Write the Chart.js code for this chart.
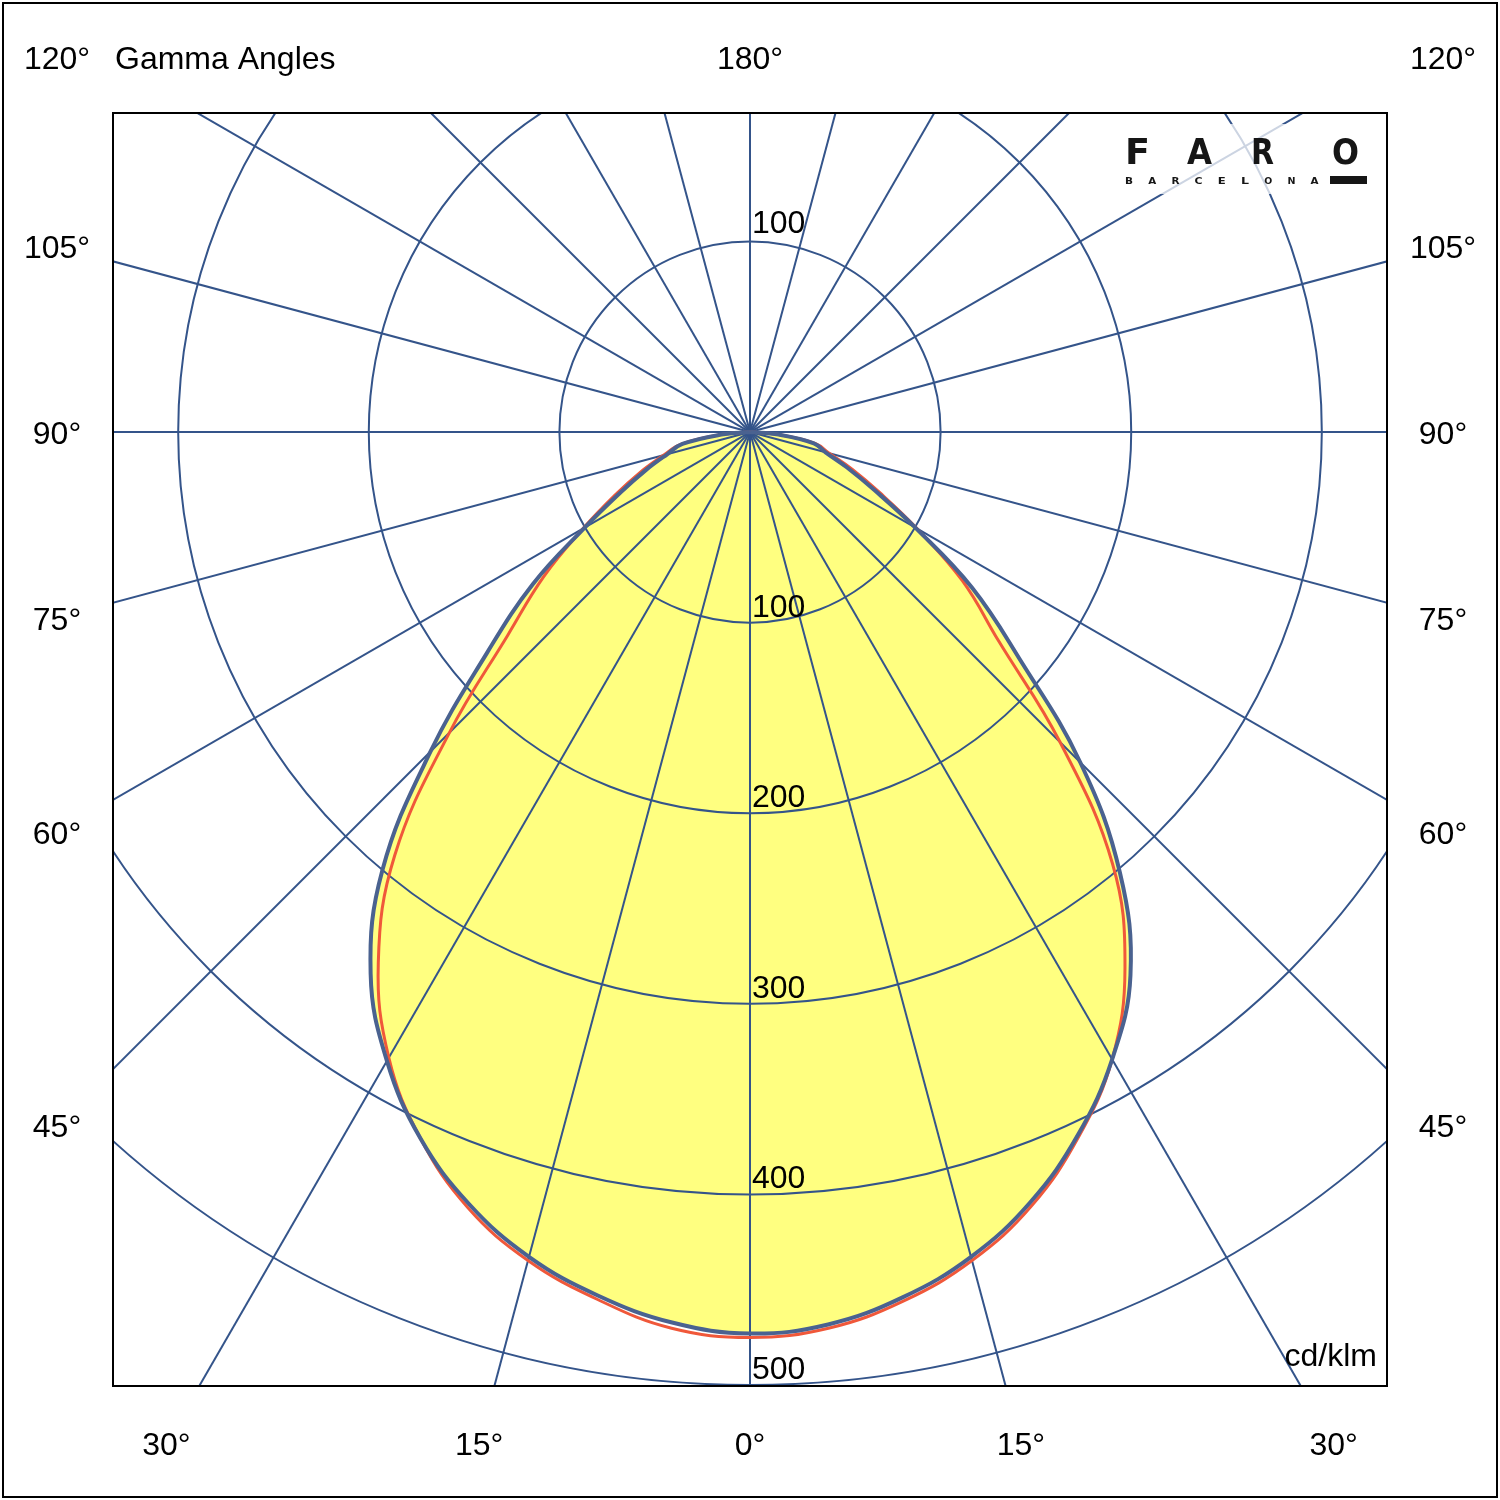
<!DOCTYPE html>
<html>
<head>
<meta charset="utf-8">
<title>Gamma Angles</title>
<script src="https://cdn.jsdelivr.net/npm/chart.js@4.4.0/dist/chart.umd.min.js"></script>
<style>
  html, body { margin: 0; padding: 0; background: #ffffff; }
  canvas { display: block; }
</style>
</head>
<body>
<canvas id="polarChart" width="1500" height="1500"></canvas>
<script>
// gamma angles of the measured points (deg)
const gammaAngles = [0, 5, 10, 15, 20, 25, 30, 35, 40, 45, 50, 55, 60, 65, 70, 75, 80, 85, 90];

// C0 - C180 plane (blue, filled)
const planeC0   = [473, 470, 461, 448, 430, 407, 380, 348, 302, 245, 184, 142, 100, 72, 54, 41, 34, 15, 0];
const planeC180 = [473, 469, 460, 448, 431, 409, 381, 347, 300, 237, 180, 139, 100, 75, 58, 45, 36, 15, 0];

// C90 - C270 plane (red)
const planeC90  = [475, 472, 463, 450, 432, 408, 380, 343, 296, 230, 170, 136, 101, 75, 57, 43, 35, 15, 0];
const planeC270 = [475, 472, 462, 450, 433, 409, 379, 340, 290, 223, 166, 132, 101, 78, 61, 47, 37, 15, 0];

// grid
const ringValues = [100, 200, 300, 400, 500];
const upperRingLabels = [100];
const spokeStep = 15;
const angleLabelAngles = [-120, 180, 120, -105, 105, -90, 90, -75, 75, -60, 60, -45, 45, -30, -15, 0, 15, 30];

const unitLabel = 'cd/klm';
const titleText = 'Gamma Angles';

const gridColor = '#34548a';
const fontFamily = '"Liberation Sans", Arial, sans-serif';

// angle 0 = straight down, positive to the right
function polar(angle, value) {
    const rad = angle * Math.PI / 180;
    return { x: value * Math.sin(rad), y: -value * Math.cos(rad) };
}

function planeCurve(leftValues, rightValues) {
    const pts = [];
    for (let i = gammaAngles.length - 1; i >= 0; i--) {
        pts.push(polar(-gammaAngles[i], leftValues[i]));
    }
    for (let i = 1; i < gammaAngles.length; i++) {
        pts.push(polar(gammaAngles[i], rightValues[i]));
    }
    return pts;
}

const blueCurve = planeCurve(planeC180, planeC0);
const redCurve = planeCurve(planeC270, planeC90);

// draws one logo letter squeezed/stretched to a given box width
function wideLetter(ctx, ch, left, baseline, width) {
    const w = ctx.measureText(ch).width;
    ctx.save();
    ctx.translate(left, baseline);
    ctx.scale(width / w, 1);
    ctx.fillText(ch, 0, 0);
    ctx.restore();
}

const polarGrid = {
    id: 'polarGrid',
    afterDatasetDraw(chart, args) {
        // grid goes on top of the yellow area, under the two curves
        if (args.index !== 2) return;
        const { ctx, chartArea: area, scales: { x, y } } = chart;
        const cx = x.getPixelForValue(0);
        const cy = y.getPixelForValue(0);
        ctx.save();
        ctx.beginPath();
        ctx.rect(area.left, area.top, area.width, area.height);
        ctx.clip();
        ctx.strokeStyle = gridColor;
        ctx.lineWidth = 2;
        ringValues.forEach(v => {
            const r = x.getPixelForValue(v) - cx;
            ctx.beginPath();
            ctx.arc(cx, cy, r, 0, Math.PI * 2);
            ctx.stroke();
        });
        for (let a = 0; a < 360; a += spokeStep) {
            const rad = a * Math.PI / 180;
            ctx.beginPath();
            ctx.moveTo(cx, cy);
            ctx.lineTo(cx + 3000 * Math.sin(rad), cy + 3000 * Math.cos(rad));
            ctx.stroke();
        }
        ctx.restore();
    },
    afterDraw(chart) {
        const { ctx, chartArea: area, scales: { x, y } } = chart;
        const cx = x.getPixelForValue(0);
        const cy = y.getPixelForValue(0);
        ctx.save();

        // plot frame
        ctx.strokeStyle = '#000000';
        ctx.lineWidth = 2;
        ctx.strokeRect(area.left, area.top, area.width, area.height);

        // outer frame
        ctx.strokeRect(3, 3, chart.width - 6, chart.height - 6);

        ctx.fillStyle = '#000000';
        ctx.font = '32px ' + fontFamily;
        ctx.textBaseline = 'alphabetic';

        // angle labels around the frame
        const box = { left: area.left - 56, right: area.right + 56, top: area.top - 56, bottom: area.bottom + 57 };
        angleLabelAngles.forEach(angle => {
            const rad = angle * Math.PI / 180;
            const dx = Math.sin(rad), dy = Math.cos(rad);
            const abs = Math.abs(angle);
            let px, py;
            if (abs >= 150) {
                px = cx + (box.top - cy) / dy * dx; py = box.top;
            } else if (abs <= 30) {
                px = cx + (box.bottom - cy) / dy * dx; py = box.bottom;
            } else {
                px = angle < 0 ? box.left : box.right;
                py = cy + (px - cx) / dx * dy;
            }
            px = Math.min(box.right, Math.max(box.left, px));
            py = Math.min(box.bottom, Math.max(box.top, py));
            ctx.textAlign = 'center';
            ctx.fillText(abs + '\u00b0', px, py + 12);
        });

        ctx.textAlign = 'left';
        ctx.fillText(titleText, area.left + 2, box.top + 12);

        // ring values along the 0-180 axis
        ringValues.forEach(v => {
            const r = x.getPixelForValue(v) - cx;
            ctx.fillText(String(v), cx + 2, cy + r - 6);
        });
        upperRingLabels.forEach(v => {
            const r = x.getPixelForValue(v) - cx;
            ctx.fillText(String(v), cx + 2, cy - r - 8);
        });

        ctx.textAlign = 'right';
        ctx.fillText(unitLabel, area.right - 10, area.bottom - 20);

        // FARO logo
        ctx.fillStyle = 'rgba(255,255,255,0.75)';
        ctx.fillRect(1116, 124, 266, 70);
        ctx.fillStyle = '#161616';
        ctx.textAlign = 'left';
        ctx.font = '900 35px "DejaVu Sans", sans-serif';
        [['F', 1125, 25], ['A', 1187, 25], ['R', 1251, 23], ['O', 1332, 27]].forEach(([ch, lx, w]) => {
            wideLetter(ctx, ch, lx, 164, w);
        });
        ctx.font = '900 9px "DejaVu Sans", sans-serif';
        'BARCELONA'.split('').forEach((ch, i) => {
            wideLetter(ctx, ch, 1125 + i * 23.2, 183.5, 8);
        });
        ctx.fillRect(1330, 176, 37, 8);

        ctx.restore();
    }
};

const ctx = document.getElementById('polarChart').getContext('2d');
const polarChart = new Chart(ctx, {
    type: 'line',
    data: {
        datasets: [{
            label: 'C0 - C180',
            data: blueCurve,
            borderColor: '#4a6290',
            borderWidth: 4,
            pointRadius: 0,
            fill: false,
            tension: 0.4
        }, {
            label: 'C90 - C270',
            data: redCurve,
            borderColor: '#f0583a',
            borderWidth: 3,
            pointRadius: 0,
            fill: false,
            tension: 0.4
        }, {
            label: 'area',
            data: blueCurve,
            borderWidth: 0,
            borderColor: 'rgba(0,0,0,0)',
            backgroundColor: '#ffff80',
            pointRadius: 0,
            fill: 'shape',
            tension: 0.4
        }]
    },
    options: {
        responsive: false,
        animation: false,
        events: [],
        layout: { padding: { left: 113, right: 113, top: 113, bottom: 114 } },
        scales: {
            x: { type: 'linear', min: -334.2, max: 334.2, display: false },
            y: { type: 'linear', min: -500.5, max: 167.4, display: false }
        },
        plugins: {
            legend: { display: false },
            tooltip: { enabled: false }
        }
    },
    plugins: [polarGrid]
});
</script>
</body>
</html>
